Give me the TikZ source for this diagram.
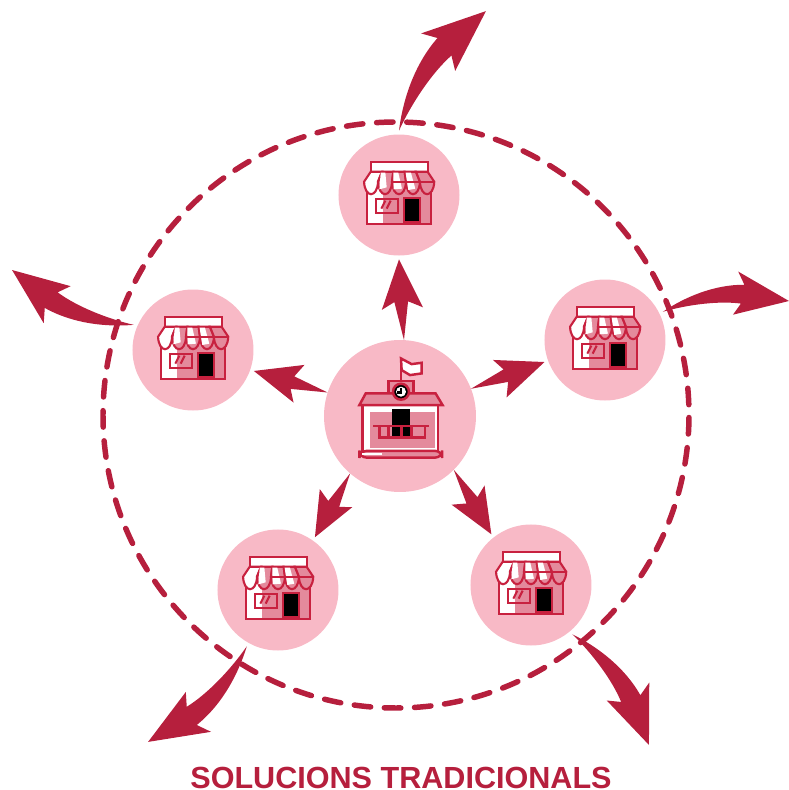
\documentclass[tikz,border=0pt]{standalone}
\usepackage{fontspec}
\setmainfont{Liberation Sans}
\usetikzlibrary{calc}

\definecolor{crimson}{HTML}{B61F3D}
\definecolor{rosedisc}{HTML}{F8B9C6}
\definecolor{rosemid}{HTML}{E48A9C}
\definecolor{iconline}{HTML}{C8213F}

\tikzset{
	disc/.style={circle,fill=rosedisc,inner sep=0pt,outer sep=1.1pt},
	shopdisc/.style={disc,minimum size=1.21cm},
	hubdisc/.style={disc,minimum size=1.52cm,outer sep=0pt},
	% arrow with a straight shaft, from (0,0) to (1,0)
	shortarrow/.pic={
		\fill[crimson] (0,0) -- (.476,.09) -- (.39,.25) -- (1,0) -- (.39,-.26) -- (.476,-.08) -- cycle;
	},
	% arrow that bends to its right, from (0,0) to (1,0)
	longarrow/.pic={
		\fill[crimson] (0,0) .. controls (.18,.10) and (.42,.18) .. (.66,.158)
		-- (.62,.266) -- (1,0) -- (.55,-.07) -- (.62,.012)
		.. controls (.45,.05) and (.2,.04) .. (0,0) -- cycle;
	},
	shopicon/.pic={
		\begin{scope}[x=0.00333cm,y=-0.00333cm,shift={(-177,-195)},line width=.6pt,draw=iconline]
			% body
			\fill[rosemid] (80,170) rectangle (272,282);
			\fill[white] (80,170) rectangle (128,282);
			\draw (80,170) rectangle (272,282);
			\draw[fill=white] (108,207) rectangle (175,248);
			\fill[rosemid] (128,207) rectangle (175,248);
			\draw (108,207) rectangle (175,248);
			\draw (124,236) -- (136,212) (140,236) -- (152,212);
			\fill[black] (193,203) rectangle (240,277);
			\draw (193,203) rectangle (240,277);
			% roof and awning
			\draw[fill=white] (92,97) rectangle (263,125);
			\foreach \ta/\tb/\xa/\xb/\shade in {92/126/72/114/white,126/160/114/156/rosemid,160/194/156/198/rosemid,194/228/198/240/rosemid,228/263/240/283/rosemid}
			\draw[fill=\shade] (\ta,125) -- (\xa,155)
			.. controls (\xa+2,205) and (\xb-2,205) .. (\xb,155) -- (\tb,125) -- cycle;
			% white stripes
			\fill[white] (122,128) -- (136,128) -- (140,172) -- (118,178) -- cycle;
			\fill[white] (160,128) -- (175,128) -- (186,176) -- (161,178) -- cycle;
			\fill[white] (197,128) -- (213,128) -- (226,176) -- (205,180) -- cycle;
			\draw (156,155) -- (283,155);
		\end{scope}
	},
	hubicon/.pic={
		\begin{scope}[x=0.00333cm,y=-0.00333cm,shift={(-225,-228)},line width=.7pt,draw=iconline]
			% flag
			\draw (228,120) -- (228,55);
			\draw[fill=white] (228,55) -- (260,72) -- (290,68) -- (290,100) -- (255,105) -- (230,90) -- cycle;
			% tower
			\draw[fill=rosemid] (190,160) -- (190,122) -- (265,122) -- (265,160) -- cycle;
			% body
			\draw[fill=white] (112,195) rectangle (340,333);
			\fill[rosemid] (135,215) rectangle (330,325);
			% roof
			\draw[fill=rosemid] (122,160) -- (332,160) -- (353,195) -- (103,195) -- cycle;
			\fill[black] (200,208) rectangle (255,290);
			% rail
			\draw (145,258) -- (312,258);
			\draw (163,258) rectangle (300,292);
			\foreach \xr in {190,230,260}
			\draw (\xr,258) -- (\xr,292);
			% clock
			\draw[fill=black] (228,155) circle (24);
			\fill[white] (228,155) circle (15);
			\draw[black] (228,143) -- (228,157) -- (216,157);
			% base
			\draw[fill=rosemid,rounded corners=2pt] (103,333) rectangle (352,353);
			\fill[white] (110,338) rectangle (170,346);
		\end{scope}
	}
}

% #1 pic, #2 start, #3 end
\newcommand{\flyarrow}[3]{
	\path let \p1=($(#3)-(#2)$), \n1={atan2(\y1,\x1)}, \n2={veclen(\x1,\y1)/28.4528} in
	(#2) pic[rotate=\n1,scale=\n2] {#1};
}

\begin{document}
\begin{tikzpicture}
\useasboundingbox (0,0) rectangle (7.89,7.90);

%----------------------------
% Dashed ring
%----------------------------
\draw[crimson,line width=1.56pt,line cap=round,dash pattern=on .165cm off .137cm,dash phase=.199cm] (3.96,3.75) circle (2.93);

%----------------------------
% Discs and icons
%----------------------------
\node[hubdisc] (hub) at (4.00,3.74) {};
\foreach \name/\x/\y in {shopN/3.99/5.95,shopE/6.05/4.50,shopW/1.93/4.40,shopSW/2.78/2.00,shopSE/5.31/2.05}
{
	\node[shopdisc] (\name) at (\x,\y) {};
	\pic at (\name) {shopicon};
}
\pic at (hub) {hubicon};

%----------------------------
% Free ends of the outer arrows
%----------------------------
\coordinate (endN) at (4.86,7.79);
\coordinate (endE) at (7.89,4.89);
\coordinate (endW) at (0.12,5.20);
\coordinate (endSW) at (1.48,0.48);
\coordinate (endSE) at (6.49,0.45);

%----------------------------
% Arrows: hub to shops
%----------------------------
\flyarrow{shortarrow}{hub.87}{shopN.270}
\flyarrow{shortarrow}{hub.21.7}{shopE.200}
\flyarrow{shortarrow}{hub.162.5}{shopW.341.6}
\flyarrow{shortarrow}{hub.229}{shopSW.55}
\flyarrow{shortarrow}{hub.315}{shopSE.128}

%----------------------------
% Arrows: shops to the outside
%----------------------------
\flyarrow{longarrow}{shopN.90}{endN}
\flyarrow{longarrow}{shopE.26}{endE}
\flyarrow{longarrow}{shopW.157.7}{endW}
\flyarrow{longarrow}{shopSW.241.5}{endSW}
\flyarrow{longarrow}{shopSE.310.5}{endSE}

\node[text=crimson,font=\fontsize{8.7}{10}\selectfont\bfseries] (title) at (4.01,0.12) {SOLUCIONS TRADICIONALS};
\end{tikzpicture}
\end{document}
